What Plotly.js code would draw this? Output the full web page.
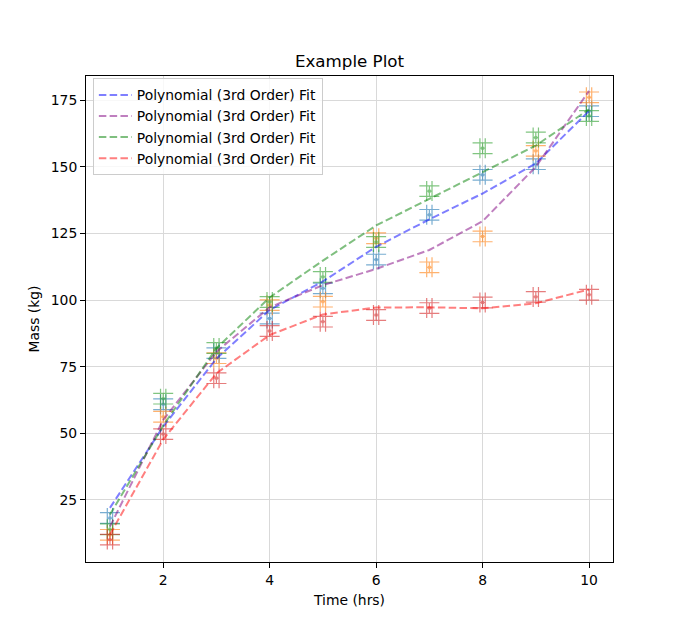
<!DOCTYPE html>
<html>
<head>
<meta charset="utf-8">
<script src="https://cdn.plot.ly/plotly-3.0.1.min.js"></script>
<style>
  html, body { margin: 0; padding: 0; background: #fff; }
  #chart { width: 681px; height: 631px; }
</style>
</head>
<body>
<div id="chart"></div>
<script>
// Time (hrs)
const hours = [1, 2, 3, 4, 5, 6, 7, 8, 9, 10];

// Measured mass (kg), four samples
const massBlue   = [18.2, 60.9, 80.1, 93.1, 104.4, 115.2, 132.0, 147.0, 151.0, 170.9];
const massOrange = [11.9, 56.2, 78.2, 98.1, 99.4, 123.2, 112.3, 123.9, 156.0, 176.1];
const massGreen  = [14.0, 63.0, 82.0, 99.3, 108.7, 121.8, 140.9, 157.0, 161.0, 169.1];
const massRed    = [10.1, 49.7, 70.7, 88.4, 91.9, 94.4, 97.0, 99.1, 101.2, 102.0];

// Polynomial (3rd order) fit values read at each hour
const fitBlue   = [22.0, 52.5, 78.0, 96.3, 107.0, 120.0, 130.3, 140.0, 151.3, 171.0];
const fitPurple = [15.0, 55.0, 80.6, 97.3, 105.6, 111.7, 118.8, 129.6, 150.0, 178.5];
const fitGreen  = [19.5, 52.9, 81.9, 101.0, 114.8, 128.0, 138.0, 148.0, 158.0, 171.6];
const fitRed    = [12.0, 47.7, 72.5, 86.9, 94.6, 97.2, 97.3, 96.9, 98.8, 104.0];

// Error sizes
const massErr = [2, 2, 2, 2, 2, 2, 2, 2, 2, 2];
const timeErr = [0.05, 0.05, 0.05, 0.05, 0.05, 0.05, 0.05, 0.05, 0.05, 0.05];

const fitLabel = 'Polynomial (3rd Order) Fit';

function dataTrace(y, color) {
  return {
    x: hours, y: y, type: 'scatter', mode: 'markers', showlegend: false,
    hoverinfo: 'skip',
    marker: { symbol: 'square', size: 3, color: color },
    error_y: { type: 'data', array: massErr, visible: true, color: color, thickness: 1.2, width: 10 },
    error_x: { type: 'data', array: timeErr, visible: true, color: color, thickness: 1.2, width: 10 },
    opacity: 0.6
  };
}
function fitTrace(y, color) {
  return {
    x: hours, y: y, type: 'scatter', mode: 'lines', name: fitLabel,
    line: { color: color, width: 2, dash: '7.5px,3.3px' }
  };
}

const traces = [
  dataTrace(massBlue, '#1f77b4'),
  dataTrace(massOrange, '#ff7f0e'),
  dataTrace(massGreen, '#2ca02c'),
  dataTrace(massRed, '#d62728'),
  fitTrace(fitBlue, 'rgba(0,0,255,0.5)'),
  fitTrace(fitPurple, 'rgba(128,0,128,0.5)'),
  fitTrace(fitGreen, 'rgba(0,128,0,0.5)'),
  fitTrace(fitRed, 'rgba(255,0,0,0.5)')
];

const font = { family: 'DejaVu Sans, sans-serif', color: '#000' };

const layout = {
  width: 681, height: 631,
  paper_bgcolor: '#fff', plot_bgcolor: '#fff',
  margin: { l: 86, r: 68, t: 76, b: 69 },
  font: Object.assign({ size: 13.9 }, font),
  title: { text: 'Example Plot', font: Object.assign({ size: 16.7 }, font),
           x: 0.5, xref: 'paper', y: 1 - 61 / 631, yref: 'container', yanchor: 'middle' },
  showlegend: true,
  legend: {
    x: 0.013, y: 0.995, xanchor: 'left', yanchor: 'top',
    itemwidth: 33,
    bgcolor: 'rgba(255,255,255,0.8)', bordercolor: '#cccccc', borderwidth: 1,
    font: Object.assign({ size: 13.9 }, font)
  },
  xaxis: {
    range: [0.55, 10.45], tickvals: [2, 4, 6, 8, 10],
    showgrid: true, gridcolor: '#d9d9d9', gridwidth: 1, zeroline: false,
    showline: true, mirror: true, linecolor: '#000', linewidth: 1,
    ticks: 'outside', ticklen: 5, tickcolor: '#000',
    tickfont: Object.assign({ size: 13.9 }, font),
    title: { text: 'Time (hrs)', font: Object.assign({ size: 13.9 }, font), standoff: 8 }
  },
  yaxis: {
    range: [1.7, 184.1], tickvals: [25, 50, 75, 100, 125, 150, 175],
    showgrid: true, gridcolor: '#d9d9d9', gridwidth: 1, zeroline: false,
    showline: true, mirror: true, linecolor: '#000', linewidth: 1,
    ticks: 'outside', ticklen: 5, tickcolor: '#000',
    tickfont: Object.assign({ size: 13.9 }, font),
    title: { text: 'Mass (kg)', font: Object.assign({ size: 13.9 }, font), standoff: 7 }
  }
};

Plotly.newPlot('chart', traces, layout, { displayModeBar: false, staticPlot: true });
</script>
</body>
</html>
